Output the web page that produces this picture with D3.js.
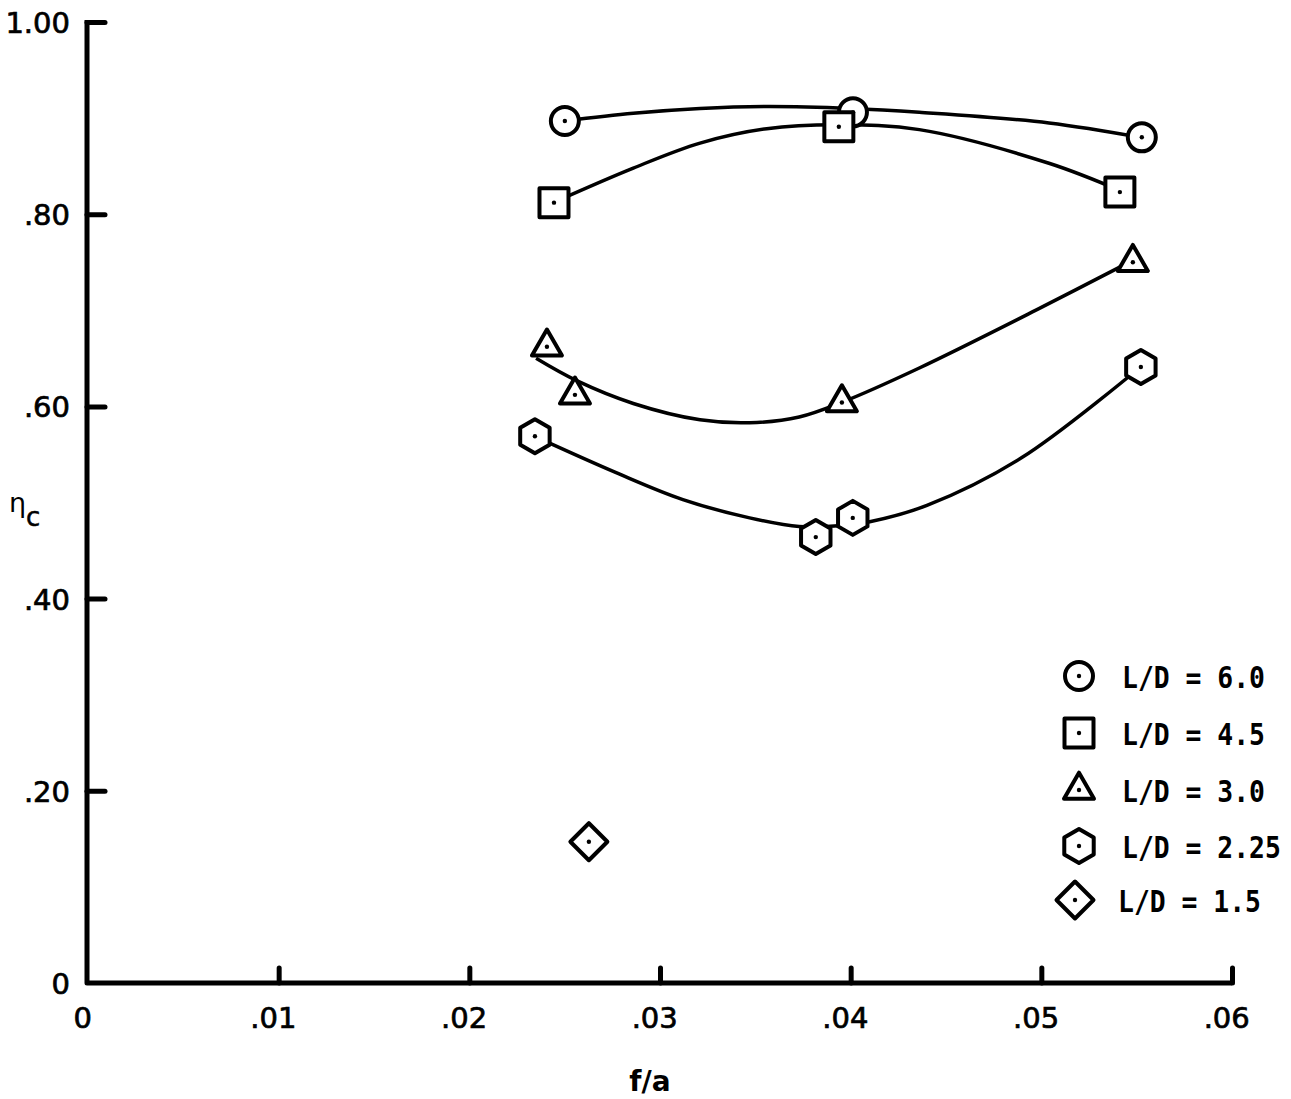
<!DOCTYPE html>
<html><head><meta charset="utf-8">
<script src="https://cdn.jsdelivr.net/npm/d3@7"></script>
<style>body{margin:0;background:#fff}svg{display:block}</style>
</head><body>
<svg id="c" width="1291" height="1099"></svg>
<script>
// ---- data ----
const xTicks = [0, 0.01, 0.02, 0.03, 0.04, 0.05, 0.06];
const xTickLabels = ["0", ".01", ".02", ".03", ".04", ".05", ".06"];
const yTicks = [0, 0.2, 0.4, 0.6, 0.8, 1.0];
const yTickLabels = ["0", ".20", ".40", ".60", ".80", "1.00"];
const seriesNames = ["L/D = 6.0", "L/D = 4.5", "L/D = 3.0", "L/D = 2.25", "L/D = 1.5"];
const seriesSymbols = ["circle", "square", "triangle", "hexagon", "diamond"];

const circlePts   = [[0.02501, 0.897], [0.04012, 0.906], [0.05527, 0.880]];
const squarePts   = [[0.02444, 0.812], [0.03938, 0.891], [0.05412, 0.823]];
const trianglePts = [[0.02407, 0.662], [0.02554, 0.612], [0.03954, 0.604], [0.05480, 0.750]];
const hexagonPts  = [[0.02344, 0.569], [0.03817, 0.464], [0.04011, 0.484], [0.05522, 0.641]];
const diamondPts  = [[0.02627, 0.147]];

// faired curves drawn through the data
const circleFit   = [[0.0250,0.897],[0.0286,0.905],[0.0321,0.910],[0.0356,0.912],[0.0400,0.910],[0.0436,0.906],[0.0504,0.895],[0.0552,0.880]];
const squareFit   = [[0.0245,0.813],[0.0286,0.848],[0.0321,0.874],[0.0356,0.889],[0.0394,0.893],[0.0436,0.888],[0.0504,0.853],[0.0542,0.824]];
const triangleFit = [[0.0235,0.650],[0.0256,0.627],[0.0286,0.603],[0.0321,0.586],[0.0347,0.583],[0.0373,0.589],[0.0395,0.604],[0.0436,0.640],[0.0500,0.703],[0.0548,0.752]];
const hexagonFit  = [[0.0234,0.569],[0.0277,0.531],[0.0312,0.503],[0.0347,0.484],[0.0373,0.475],[0.0394,0.476],[0.0410,0.480],[0.0440,0.497],[0.0490,0.547],[0.0552,0.641]];

const seriesPts = [circlePts, squarePts, trianglePts, hexagonPts, diamondPts];
const seriesFits = [circleFit, squareFit, triangleFit, hexagonFit, null];

// ---- drawing ----
const svg = d3.select("#c");
const x = d3.scaleLinear().domain([0, 0.06]).range([88, 1232]);
const y = d3.scaleLinear().domain([0, 1.0]).range([983, 22]);
const tickFont = "'DejaVu Sans', sans-serif";

// axes
const yAxis = d3.axisLeft(y).tickValues(yTicks).tickSize(-18).tickPadding(17)
  .tickFormat((d, i) => yTickLabels[i]);
const gy = svg.append("g").attr("transform", "translate(87,0)").call(yAxis);
gy.select(".domain").remove();
gy.selectAll(".tick line").attr("stroke", "#000").attr("stroke-width", 5).attr("stroke-linecap", "round");
gy.selectAll(".tick").filter(d => d === 0).select("line").remove();
gy.selectAll(".tick text").attr("font-family", tickFont).attr("font-size", 29).attr("fill", "#000")
  .attr("stroke", "#000").attr("stroke-width", 0.7).attr("dy", "0.36em");

const xAxis = d3.axisBottom(x).tickValues(xTicks).tickSize(-15).tickPadding(24)
  .tickFormat((d, i) => xTickLabels[i]);
const gx = svg.append("g").attr("transform", "translate(0,983)").call(xAxis);
gx.select(".domain").remove();
gx.selectAll(".tick line").attr("stroke", "#000").attr("stroke-width", 5).attr("stroke-linecap", "round");
gx.selectAll(".tick").filter(d => d === 0).select("line").remove();
gx.selectAll(".tick text").attr("font-family", tickFont).attr("font-size", 29).attr("fill", "#000")
  .attr("stroke", "#000").attr("stroke-width", 0.7).attr("dx", "-0.2em");

// axis lines
svg.append("path")
  .attr("d", `M${x(0)-1},${y(1.0)-2} V${y(0)} H${x(0.06)}`)
  .attr("fill", "none").attr("stroke", "#000").attr("stroke-width", 5).attr("stroke-linejoin", "round");

// axis titles
svg.append("text").attr("x", 9).attr("y", 512).attr("font-family", tickFont).attr("font-size", 27).text("η");
svg.append("text").attr("x", 26).attr("y", 526).attr("font-family", tickFont).attr("font-size", 26)
  .attr("stroke", "#000").attr("stroke-width", 0.5).text("c");
svg.append("text").attr("x", 650).attr("y", 1091).attr("text-anchor", "middle")
  .attr("font-family", "'DejaVu Sans', sans-serif").attr("font-weight", "bold").attr("font-size", 28).text("f/a");

// curves
const line = d3.line().x(d => x(d[0])).y(d => y(d[1])).curve(d3.curveCatmullRom.alpha(0.5));
seriesFits.forEach(f => {
  if (!f) return;
  svg.append("path").attr("d", line(f)).attr("fill", "none").attr("stroke", "#000").attr("stroke-width", 3.5);
});

// symbol shapes
function symbolPath(type, s) {
  if (type === "circle") return d3.arc()({innerRadius:0, outerRadius:14*s, startAngle:0, endAngle:2*Math.PI});
  if (type === "square") { const h = 14.5*s; return `M${-h},${-h}H${h}V${h}H${-h}Z`; }
  if (type === "triangle") { const a = 15*s; const ht = a*Math.sqrt(3); return `M0,${-ht*2/3}L${a},${ht/3}L${-a},${ht/3}Z`; }
  if (type === "hexagon") {
    const r = 17*s; let p = "";
    for (let k = 0; k < 6; k++) { const ang = Math.PI/2 + k*Math.PI/3; p += (k?"L":"M") + (r*Math.cos(ang)).toFixed(2) + "," + (r*Math.sin(ang)).toFixed(2); }
    return p + "Z";
  }
  if (type === "diamond") { const r = 18.5*s; return `M0,${-r}L${r},0L0,${r}L${-r},0Z`; }
}
function drawMarker(g, type, cx, cy, s) {
  const m = g.append("g").attr("transform", `translate(${cx},${cy})`);
  m.append("path").attr("d", symbolPath(type, s)).attr("fill", "#fff").attr("stroke", "#000")
    .attr("stroke-width", 4).attr("stroke-linejoin", "round");
  m.append("circle").attr("r", 2.2).attr("fill", "#000");
}

const gm = svg.append("g");
seriesPts.forEach((pts, i) => {
  pts.forEach(p => drawMarker(gm, seriesSymbols[i], x(p[0]), y(p[1]), 1));
});

// legend
const legendY = [676, 733, 790, 846, 900];
const lg = svg.append("g");
seriesNames.forEach((name, i) => {
  drawMarker(lg, seriesSymbols[i], i === 4 ? 1075 : 1079, legendY[i], 1);
  const tx = i === 4 ? 1118 : 1122;
  lg.append("text").attr("transform", `translate(${tx},${legendY[i] + 12}) scale(0.88,1)`)
    .attr("font-family", "'DejaVu Sans Mono', monospace").attr("font-weight", "bold").attr("font-size", 30)
    .text(name);
});
</script>
</body></html>
